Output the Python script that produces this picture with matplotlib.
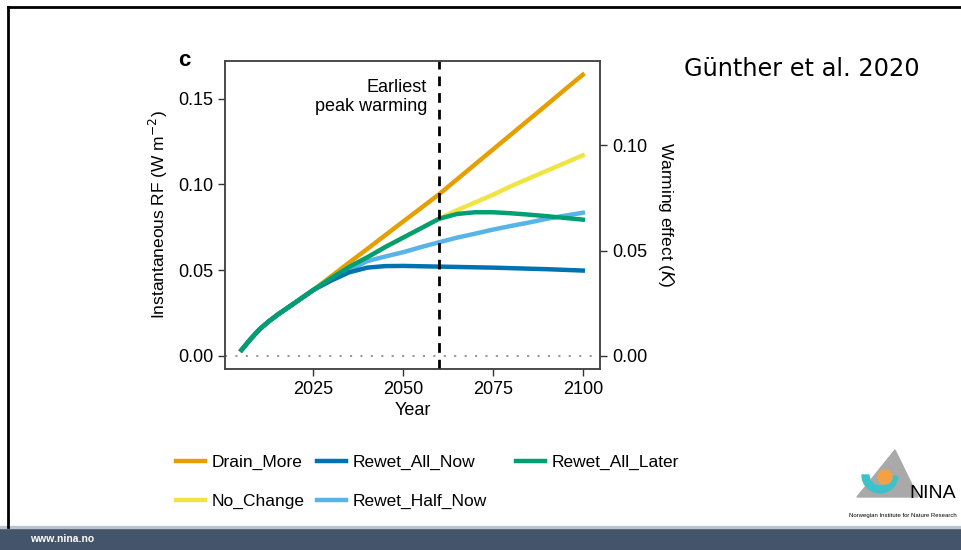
import numpy as np
import matplotlib
matplotlib.use('Agg')
import matplotlib.pyplot as plt
from matplotlib.patches import Rectangle, Polygon, Circle, Wedge
from matplotlib.lines import Line2D

plt.rcParams['font.family'] = ['Liberation Sans', 'DejaVu Sans']

# data (instantaneous RF, W m-2)
years = [2005, 2007.5, 2010, 2012.5, 2015, 2020, 2025, 2030, 2035, 2040, 2045, 2050, 2055,
         2060, 2065, 2070, 2075, 2080, 2085, 2090, 2095, 2100]
drain_more = [0.0035, 0.0098, 0.0155, 0.020, 0.024, 0.0312, 0.0385, 0.0465, 0.0545, 0.0624,
              0.0704, 0.0784, 0.0863, 0.0943, 0.103, 0.1117, 0.1204, 0.1291, 0.1378, 0.1465,
              0.1553, 0.164]
no_change = [0.0035, 0.0098, 0.0155, 0.020, 0.024, 0.0312, 0.0385, 0.0455, 0.052, 0.0575, 0.0635,
             0.069, 0.0745, 0.080, 0.085, 0.0895, 0.094, 0.099, 0.1035, 0.108, 0.1125, 0.117]
rewet_all_now = [0.0035, 0.0098, 0.0155, 0.020, 0.024, 0.0312, 0.0385, 0.044, 0.0488, 0.0515,
                 0.0524, 0.0525, 0.0523, 0.0521, 0.0519, 0.0517, 0.0515, 0.0512, 0.0509,
                 0.0506, 0.0502, 0.0498]
rewet_half_now = [0.0035, 0.0098, 0.0155, 0.020, 0.024, 0.0312, 0.0385, 0.0445, 0.050, 0.0553,
                  0.058, 0.0605, 0.0635, 0.0663, 0.069, 0.0713, 0.0737, 0.0758, 0.0778,
                  0.080, 0.0818, 0.0835]
rewet_all_later = [0.0035, 0.0098, 0.0155, 0.020, 0.024, 0.0312, 0.0385, 0.0455, 0.052, 0.0575,
                   0.0635, 0.069, 0.0745, 0.080, 0.0828, 0.0838, 0.0838, 0.0832, 0.0824,
                   0.0815, 0.0805, 0.0795]

peak_year = 2060
rf_to_k = 0.8136  # right axis scaling

c_drain = '#E69F00'
c_nochange = '#F0E442'
c_allnow = '#0072B2'
c_halfnow = '#56B4E9'
c_later = '#009E73'

fig = plt.figure(figsize=(9.62, 5.5), dpi=100)
fig.patch.set_facecolor('white')

ax = fig.add_axes([0.2339, 0.3291, 0.3898, 0.56])
ax.axhline(0, color='#999999', lw=1.5, ls=(0, (1, 4)), zorder=1)
l1, = ax.plot(years, drain_more, color=c_drain, lw=3.2, label='Drain_More')
l2, = ax.plot(years, no_change, color=c_nochange, lw=3.2, label='No_Change')
l3, = ax.plot(years, rewet_half_now, color=c_halfnow, lw=3.2, label='Rewet_Half_Now')
l4, = ax.plot(years, rewet_all_now, color=c_allnow, lw=3.2, label='Rewet_All_Now')
l5, = ax.plot(years, rewet_all_later, color=c_later, lw=3.2, label='Rewet_All_Later')
ax.axvline(peak_year, color='black', lw=2, ls=(0, (3.5, 2.5)), zorder=5)
ax.text(2056.7, 0.151, 'Earliest\npeak warming', ha='right', va='center',
        multialignment='right', fontsize=13, linespacing=1.15)

ax.set_xlim(2000.4, 2104.8)
ax.set_ylim(-0.0076, 0.172)
ax.set_xticks([2025, 2050, 2075, 2100])
ax.set_yticks([0, 0.05, 0.10, 0.15])
ax.set_yticklabels(['0.00', '0.05', '0.10', '0.15'])
ax.tick_params(direction='out', length=5, width=1, labelsize=13, colors='#333333',
               labelcolor='black')
ax.set_xlabel('Year', fontsize=13, labelpad=3)
ax.set_ylabel('Instantaneous RF (W m$^{-2}$)', fontsize=12.5, labelpad=6)
for s in ax.spines.values():
    s.set_color('#444444')
    s.set_linewidth(1.1)

ax2 = ax.twinx()
ax2.set_ylim(-0.0076 * rf_to_k, 0.172 * rf_to_k)
ax2.set_yticks([0, 0.05, 0.10])
ax2.set_yticklabels(['0.00', '0.05', '0.10'])
ax2.tick_params(direction='out', length=5, width=1, labelsize=13, colors='#333333',
                labelcolor='black')
ax2.set_ylabel('Warming effect ($K$)', fontsize=12.5, rotation=-90, labelpad=21)
for s in ax2.spines.values():
    s.set_color('#444444')
    s.set_linewidth(1.1)

ax.text(-0.125, 1.0, 'c', transform=ax.transAxes, fontsize=16, fontweight='bold',
        va='center', ha='left')

# legend below: one legend per column so the columns sit where they do in the slide
leg_kw = dict(frameon=False, loc='upper left', fontsize=12.5, handlelength=1.65,
              handletextpad=0.38, labelspacing=1.35, borderaxespad=0, borderpad=0)
fig.legend([l1, l2], ['Drain_More', 'No_Change'], bbox_to_anchor=(176 / 962, 1 - 455 / 550), **leg_kw)
fig.legend([l4, l3], ['Rewet_All_Now', 'Rewet_Half_Now'], bbox_to_anchor=(317 / 962, 1 - 455 / 550), **leg_kw)
fig.legend([l5], ['Rewet_All_Later'], bbox_to_anchor=(516 / 962, 1 - 455 / 550), **leg_kw)

# slide decoration
fig.text(0.711, 0.874, 'Günther et al. 2020', family='DejaVu Sans', fontsize=17.3,
         ha='left', va='center')
fig.add_artist(Line2D([8 / 962, 1], [1 - 7 / 550, 1 - 7 / 550], color='black', lw=2))
fig.add_artist(Line2D([8 / 962, 8 / 962], [1 - 7 / 550, 1 - 527 / 550], color='black', lw=2))
fig.add_artist(Rectangle((0, 0), 1, 22 / 550, color='#44546A', transform=fig.transFigure))
fig.add_artist(Rectangle((0, 22 / 550), 1, 2 / 550, color='#B8C4D0', transform=fig.transFigure))
fig.text(30 / 962, 11 / 550, 'www.nina.no', color='white', fontsize=7.5, fontweight='bold',
         va='center')

# NINA logo, drawn in pixel units inside a small axes
lg = fig.add_axes([845 / 962, 1 - 525 / 550, 117 / 962, 80 / 550])
lg.set_xlim(845, 962)
lg.set_ylim(525, 445)
lg.axis('off')
lg.add_patch(Polygon([[895, 450], [857, 497], [918, 497]], closed=True, color='#A9A9A9'))
lg.add_patch(Wedge((880, 475), 18, 5, 180, width=7, color='#3FC1C9'))
lg.add_patch(Circle((885, 477), 7, color='#F5A044'))
lg.text(909, 493, 'NINA', fontsize=14, va='center', ha='left')
lg.text(903, 515, 'Norwegian Institute for Nature Research', fontsize=4.3,
        va='center', ha='center')

plt.savefig('out.png', dpi=100)
